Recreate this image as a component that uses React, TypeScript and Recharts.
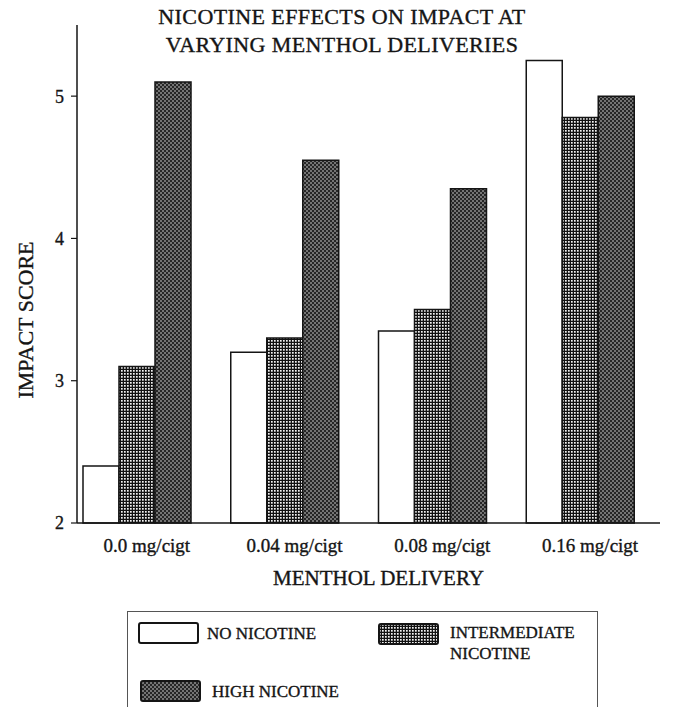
import { BarChart, Bar, XAxis, YAxis } from "recharts";

const categories = ["0.0 mg/cigt", "0.04 mg/cigt", "0.08 mg/cigt", "0.16 mg/cigt"];
const noNicotine = [2.4, 3.2, 3.35, 5.25];
const intermediateNicotine = [3.1, 3.3, 3.5, 4.85];
const highNicotine = [5.1, 4.55, 4.35, 5.0];
const yTicks = [2, 3, 4, 5];
const seriesNames = ["NO NICOTINE", "INTERMEDIATE NICOTINE", "HIGH NICOTINE"];

const data = categories.map((c, i) => ({
  menthol: c,
  none: noNicotine[i],
  mid: intermediateNicotine[i],
  high: highNicotine[i],
}));

const FONT = '"Liberation Serif", "Times New Roman", serif';
const INK = "#151515";
// scanned print looks a bit heavier than the plain regular weight
const svgInk = { stroke: INK, strokeWidth: 0.35 };

function XTick({ x, y, payload }: any) {
  return (
    <text x={x + 10} y={y + 27} textAnchor="middle" fontSize={19} fontFamily={FONT} fill={INK} {...svgInk}>
      {payload.value}
    </text>
  );
}

function Swatch({ fill }: { fill: string }) {
  return (
    <svg width={62} height={23} style={{ display: "block" }}>
      <rect x={1} y={1} width={59} height={20} rx={2} fill={fill} stroke={INK} strokeWidth={2} />
    </svg>
  );
}

export default function App() {
  return (
    <div
      style={{
        position: "absolute", left: 0, top: 0, width: 675, height: 707,
        overflow: "hidden", background: "#fff", fontFamily: FONT, color: INK,
        WebkitTextStroke: "0.35px #151515",
      }}
    >
      {/* fill patterns, shared by bars and legend */}
      <svg width={0} height={0} style={{ position: "absolute" }}>
        <defs>
          <pattern id="gridFill" width={3} height={3} patternUnits="userSpaceOnUse">
            <rect width={3} height={3} fill="#111" />
            <rect x={1} y={1} width={1.7} height={1.7} fill="#f2f2f2" />
          </pattern>
          <pattern id="dotFill" width={4} height={4} patternUnits="userSpaceOnUse">
            <rect width={4} height={4} fill="#262626" />
            <circle cx={1} cy={1} r={0.8} fill="#d8d8d8" />
            <circle cx={3} cy={3} r={0.8} fill="#d8d8d8" />
          </pattern>
        </defs>
      </svg>

      {/* title */}
      <div
        style={{
          position: "absolute", left: 0, top: 3, width: 675, paddingLeft: 9, boxSizing: "border-box",
          textAlign: "center", fontSize: 22, lineHeight: "28px", letterSpacing: 0.4,
        }}
      >
        NICOTINE EFFECTS ON IMPACT AT
        <br />
        VARYING MENTHOL DELIVERIES
      </div>

      <BarChart
        width={675}
        height={707}
        data={data}
        margin={{ top: 25, right: 15, left: 0, bottom: 124 }}
        barGap={0}
        barSize={36}
        style={{ position: "absolute", left: 0, top: 0 }}
      >
        <XAxis
          dataKey="menthol"
          height={60}
          padding={{ left: -14, right: 6 }}
          axisLine={{ stroke: INK, strokeWidth: 1.5 }}
          tickLine={false}
          tickSize={0}
          tick={<XTick />}
          label={{
            content: ({ viewBox }: any) => (
              <text
                x={viewBox.x + viewBox.width / 2 + 10}
                y={viewBox.y + 62}
                textAnchor="middle"
                fontSize={21}
                fontFamily={FONT}
                fill={INK}
                {...svgInk}
              >
                MENTHOL DELIVERY
              </text>
            ),
          }}
        />
        <YAxis
          width={77}
          domain={[2, 5.5]}
          ticks={yTicks}
          axisLine={{ stroke: INK, strokeWidth: 1.5 }}
          tickLine={{ stroke: INK, strokeWidth: 1.2 }}
          tickSize={6}
          tickMargin={7}
          tick={{ fontSize: 18, fontFamily: FONT, fill: INK, ...svgInk }}
          label={{
            content: ({ viewBox }: any) => (
              <text
                transform={`translate(${viewBox.x + 33}, ${viewBox.y + viewBox.height / 2 + 46}) rotate(-90)`}
                textAnchor="middle"
                fontSize={22}
                fontFamily={FONT}
                fill={INK}
                {...svgInk}
              >
                IMPACT SCORE
              </text>
            ),
          }}
        />
        <Bar dataKey="none" name={seriesNames[0]} fill="#fff" stroke={INK} strokeWidth={1.5} isAnimationActive={false} />
        <Bar dataKey="mid" name={seriesNames[1]} fill="url(#gridFill)" stroke={INK} strokeWidth={1.5} isAnimationActive={false} />
        <Bar dataKey="high" name={seriesNames[2]} fill="url(#dotFill)" stroke={INK} strokeWidth={1.5} isAnimationActive={false} />
      </BarChart>

      {/* legend box */}
      <div
        style={{
          position: "absolute", left: 127, top: 611, width: 471, height: 120,
          border: "1.5px solid #555", boxSizing: "border-box", fontSize: 17,
        }}
      >
        <div style={{ position: "absolute", left: 10, top: 10 }}><Swatch fill="#fff" /></div>
        <div style={{ position: "absolute", left: 79, top: 12 }}>{seriesNames[0]}</div>
        <div style={{ position: "absolute", left: 250, top: 11 }}><Swatch fill="url(#gridFill)" /></div>
        <div style={{ position: "absolute", left: 322, top: 10, width: 140, lineHeight: "21px" }}>{seriesNames[1]}</div>
        <div style={{ position: "absolute", left: 12, top: 68 }}><Swatch fill="url(#dotFill)" /></div>
        <div style={{ position: "absolute", left: 84, top: 70 }}>{seriesNames[2]}</div>
      </div>
    </div>
  );
}
